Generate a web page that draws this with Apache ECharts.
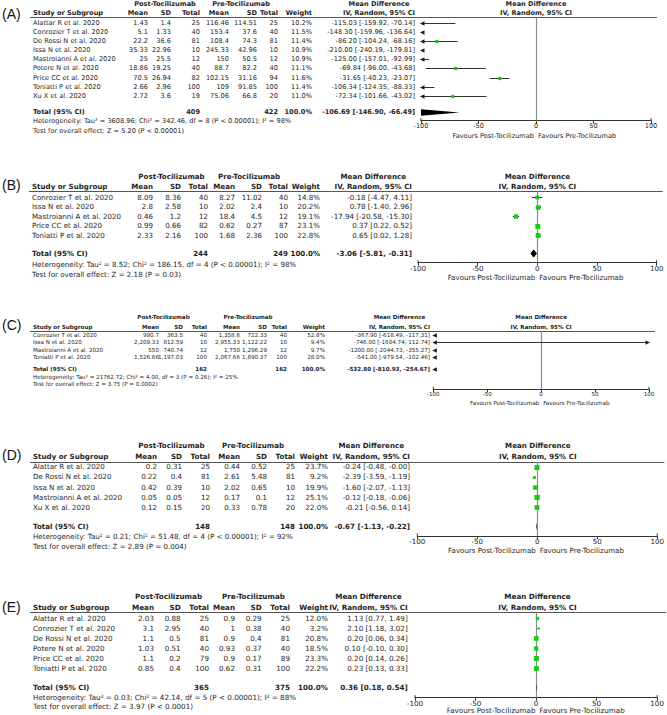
<!DOCTYPE html>
<html><head><meta charset="utf-8">
<script src="https://cdn.jsdelivr.net/npm/echarts@6.0.0/dist/echarts.min.js"></script>
<style>html,body{margin:0;padding:0;background:#fff}#c{width:667px;height:715px}</style>
</head><body><div id="c"></div>
<script>
// ---------------- DATA ----------------
const A_study = ["Alattar R et al. 2020","Conrozier T et al. 2020","De Rossi N et al. 2020","Issa N et al. 2020","Mastroianni A et al. 2020","Potere N et al. 2020","Price CC et al. 2020","Toniatti P et al. 2020","Xu X et al. 2020"];
const A_postMean = [1.43,5.1,22.2,35.33,25,18.86,70.5,2.66,2.72];
const A_postSD = [1.4,1.33,36.6,22.96,25.5,19.25,26.94,2.96,3.6];
const A_postN = [25,40,81,10,12,40,82,100,19];
const A_preMean = [116.46,153.4,108.4,245.33,150,88.7,102.15,109,75.06];
const A_preSD = [114.51,37.6,74.3,42.96,50.5,82.2,31.16,91.85,66.8];
const A_preN = [25,40,81,10,12,40,94,100,20];
const A_weight = [10.2,11.5,11.4,10.9,10.9,11.1,11.6,11.4,11.0];
const A_md = [-115.03,-148.30,-86.20,-210.00,-125.00,-69.84,-31.65,-106.34,-72.34];
const A_lo = [-159.92,-159.96,-104.24,-240.19,-157.01,-96.00,-40.23,-124.35,-101.66];
const A_hi = [-70.14,-136.64,-68.16,-179.81,-92.99,-43.68,-23.07,-88.33,-43.02];
const A_total = [409,422,-106.69,-146.90,-66.49];
const A_het = "Heterogeneity: Tau² = 3608.96; Chi² = 342.46, df = 8 (P < 0.00001); I² = 98%";
const A_test = "Test for overall effect: Z = 5.20 (P < 0.00001)";

const B_study = ["Conrozier T et al. 2020","Issa N et al. 2020","Mastroianni A et al. 2020","Price CC et al. 2020","Toniatti P et al. 2020"];
const B_postMean = [8.09,2.8,0.46,0.99,2.33];
const B_postSD = [8.36,2.58,1.2,0.66,2.16];
const B_postN = [40,10,12,82,100];
const B_preMean = [8.27,2.02,18.4,0.62,1.68];
const B_preSD = [11.02,2.4,4.5,0.27,2.36];
const B_preN = [40,10,12,87,100];
const B_weight = [14.8,20.2,19.1,23.1,22.8];
const B_md = [-0.18,0.78,-17.94,0.37,0.65];
const B_lo = [-4.47,-1.40,-20.58,0.22,0.02];
const B_hi = [4.11,2.96,-15.30,0.52,1.28];
const B_total = [244,249,-3.06,-5.81,-0.31];
const B_het = "Heterogeneity: Tau² = 8.52; Chi² = 186.15, df = 4 (P < 0.00001); I² = 98%";
const B_test = "Test for overall effect: Z = 2.18 (P = 0.03)";

const C_study = ["Conrozier T et al. 2020","Issa N et al. 2020","Mastroianni A et al. 2020","Toniatti P et al. 2020"];
const C_postMean = [990.7,2209.33,550,1526.66];
const C_postSD = [363.5,812.59,740.74,1197.03];
const C_postN = [40,10,12,100];
const C_preMean = [1358.6,2955.33,1750,2067.66];
const C_preSD = [722.33,1122.22,1296.29,1890.37];
const C_preN = [40,10,12,100];
const C_weight = [52.8,9.4,9.7,28.0];
const C_md = [-367.90,-746.00,-1200.00,-541.00];
const C_lo = [-618.49,-1604.74,-2044.73,-979.54];
const C_hi = [-117.31,112.74,-355.27,-102.46];
const C_total = [162,162,-532.80,-810.93,-254.67];
const C_het = "Heterogeneity: Tau² = 21762.72; Chi² = 4.00, df = 3 (P = 0.26); I² = 25%";
const C_test = "Test for overall effect: Z = 3.75 (P = 0.0002)";

const D_study = ["Alattar R et al. 2020","De Rossi N et al. 2020","Issa N et al. 2020","Mastroianni A et al. 2020","Xu X et al. 2020"];
const D_postMean = [0.2,0.22,0.42,0.05,0.12];
const D_postSD = [0.31,0.4,0.39,0.05,0.15];
const D_postN = [25,81,10,12,20];
const D_preMean = [0.44,2.61,2.02,0.17,0.33];
const D_preSD = [0.52,5.48,0.65,0.1,0.78];
const D_preN = [25,81,10,12,20];
const D_weight = [23.7,9.2,19.9,25.1,22.0];
const D_md = [-0.24,-2.39,-1.60,-0.12,-0.21];
const D_lo = [-0.48,-3.59,-2.07,-0.18,-0.56];
const D_hi = [-0.004,-1.19,-1.13,-0.06,0.14];
const D_total = [148,148,-0.67,-1.13,-0.22];
const D_het = "Heterogeneity: Tau² = 0.21; Chi² = 51.48, df = 4 (P < 0.00001); I² = 92%";
const D_test = "Test for overall effect: Z = 2.89 (P = 0.004)";

const E_study = ["Alattar R et al. 2020","Conrozier T et al. 2020","De Rossi N et al. 2020","Potere N et al. 2020","Price CC et al. 2020","Toniatti P et al. 2020"];
const E_postMean = [2.03,3.1,1.1,1.03,1.1,0.85];
const E_postSD = [0.88,2.95,0.5,0.51,0.2,0.4];
const E_postN = [25,40,81,40,79,100];
const E_preMean = [0.9,1,0.9,0.93,0.9,0.62];
const E_preSD = [0.29,0.38,0.4,0.37,0.17,0.31];
const E_preN = [25,40,81,40,89,100];
const E_weight = [12.0,3.2,20.8,18.5,23.3,22.2];
const E_md = [1.13,2.10,0.20,0.10,0.20,0.23];
const E_lo = [0.77,1.18,0.06,-0.10,0.14,0.13];
const E_hi = [1.49,3.02,0.34,0.30,0.26,0.33];
const E_total = [365,375,0.36,0.18,0.54];
const E_het = "Heterogeneity: Tau² = 0.03; Chi² = 42.14, df = 5 (P < 0.00001); I² = 88%";
const E_test = "Test for overall effect: Z = 3.97 (P < 0.0001)";

const AXIS_TICKS = [-100,-50,0,50,100];
const POST_LABEL = "Post-Tocilizumab";
const PRE_LABEL = "Pre-Tocilizumab";
const MD_LABEL = "Mean Difference";
const IV_LABEL = "IV, Random, 95% CI";
const STUDY_HDR = "Study or Subgroup";
const COL_HDRS = ["Mean","SD","Total","Mean","SD","Total","Weight"];
const TOTAL_LABEL = "Total (95% CI)";
const FAV_LEFT = "Favours Post-Tocilizumab";
const FAV_RIGHT = "Favours Pre-Tocilizumab";

// ---------------- LAYOUT (pixels) ----------------
// cols: study, postMean, postSD, postN, preMean, preSD, preN, weight, md (right edges except study)
const LAYOUT = {
  A:{labelY:14, h1:3.8, h2:12.8, line:17, row0:22.7, step:9.15, total:112, het:121.3, test:130.7, axis:120.7, fav:135.5, fs:6.6,
     cols:[33,148,171,200,229,257,278,312,415], postC:165, preC:241, pl:421, pr:651, thousands:false},
  B:{labelY:185, h1:176, h2:186, line:190.7, row0:197.3, step:9.5, total:253.3, het:264, test:274, axis:262.7, fav:277, fs:7.1,
     cols:[32,153,181,208,235,262,288,320,412], postC:171.5, preC:249, pl:418, pr:656.7, thousands:false},
  C:{labelY:325, h1:317, h2:327, line:331.2, row0:334.6, step:7.45, total:369.3, het:376.7, test:384, axis:389.3, fav:402.7, fs:5.6,
     cols:[33,159,183,207,240,267,287,325,430], postC:163.5, preC:248, pl:433.3, pr:649, thousands:true},
  D:{labelY:455, h1:445.7, h2:456, line:461.7, row0:466.7, step:10.15, total:526, het:536, test:546, axis:536, fav:550, fs:7.1,
     cols:[33,157,182,210,240,267,295,328,410], postC:171.5, preC:253, pl:417.3, pr:658.3, thousands:false},
  E:{labelY:606.7, h1:596.7, h2:607.3, line:611.7, row0:618.3, step:10.0, total:687.3, het:697.3, test:706.7, axis:697.7, fav:710.8, fs:7.2,
     cols:[33,154,180.7,209,235,261.7,290,328,407.7], postC:168.5, preC:253.5, pl:415, pr:660, thousands:false}
};

const PANELS = [
  {key:'A', study:A_study, pm:A_postMean, psd:A_postSD, pn:A_postN, rm:A_preMean, rsd:A_preSD, rn:A_preN, w:A_weight, md:A_md, lo:A_lo, hi:A_hi, total:A_total, het:A_het, test:A_test},
  {key:'B', study:B_study, pm:B_postMean, psd:B_postSD, pn:B_postN, rm:B_preMean, rsd:B_preSD, rn:B_preN, w:B_weight, md:B_md, lo:B_lo, hi:B_hi, total:B_total, het:B_het, test:B_test},
  {key:'C', study:C_study, pm:C_postMean, psd:C_postSD, pn:C_postN, rm:C_preMean, rsd:C_preSD, rn:C_preN, w:C_weight, md:C_md, lo:C_lo, hi:C_hi, total:C_total, het:C_het, test:C_test},
  {key:'D', study:D_study, pm:D_postMean, psd:D_postSD, pn:D_postN, rm:D_preMean, rsd:D_preSD, rn:D_preN, w:D_weight, md:D_md, lo:D_lo, hi:D_hi, total:D_total, het:D_het, test:D_test},
  {key:'E', study:E_study, pm:E_postMean, psd:E_postSD, pn:E_postN, rm:E_preMean, rsd:E_preSD, rn:E_preN, w:E_weight, md:E_md, lo:E_lo, hi:E_hi, total:E_total, het:E_het, test:E_test}
];

// ---------------- STYLE ----------------
const FONT = '"DejaVu Sans", "Liberation Sans", sans-serif';
const INK = '#1e1e1e';
const GREEN = '#14cc14';
const XMIN = AXIS_TICKS[0], XMAX = AXIS_TICKS[AXIS_TICKS.length-1];
const DIAMOND_H = 4;

const measureCtx = document.createElement('canvas').getContext('2d');
function textWidth(t, font){ measureCtx.font = font; return measureCtx.measureText(t).width; }
function fnt(fs, bold){ return (bold ? 'bold ' : '') + fs + 'px ' + FONT; }

const graphics = [];
function txt(t, x, y, font, align, fill){
  graphics.push({type:'text', x:x, y:y, silent:true,
    style:{text:t, font:font, fill:fill||INK, align:align||'left', textAlign:align||'left', verticalAlign:'middle', textVerticalAlign:'middle'}});
}
function hline(x1, x2, y, color){
  graphics.push({type:'line', silent:true, shape:{x1:x1, y1:y, x2:x2, y2:y}, style:{stroke:color||'#444', lineWidth:1}});
}

function fmtNum(v, thousands){ return thousands ? v.toLocaleString('en-US',{maximumFractionDigits:2}) : String(v); }
function fmtMD(m, l, h){ return m.toFixed(2) + ' [' + l.toFixed(2) + ', ' + h.toFixed(2) + ']'; }

function clipX(pts, xc, keepGreater){
  const inside = p => keepGreater ? p[0] >= xc : p[0] <= xc;
  const inter = (a, b) => { const t = (xc - a[0]) / (b[0] - a[0]); return [xc, a[1] + t * (b[1] - a[1])]; };
  const out = [];
  for (let i = 0; i < pts.length; i++){
    const cur = pts[i], prev = pts[(i + pts.length - 1) % pts.length];
    const ci = inside(cur), pi = inside(prev);
    if (ci){ if (!pi) out.push(inter(prev, cur)); out.push(cur); }
    else if (pi) out.push(inter(prev, cur));
  }
  return out;
}

function renderItem(params, api){
  const md = api.value(0), lo = api.value(1), hi = api.value(2), w = api.value(3), yv = api.value(4), tot = api.value(5);
  const X = v => api.coord([v, yv])[0];
  const y = Math.round(api.coord([0, yv])[1]) + 0.5;
  const cs = params.coordSys;
  const kids = [];
  if (params.dataIndex === 0){
    const zx = Math.round(X(0)) + 0.5;
    kids.push({type:'line', shape:{x1:zx, y1:cs.y, x2:zx, y2:cs.y + cs.height}, style:{stroke:'#8c8c8c', lineWidth:1.2}});
    // end ticks reaching above the axis line
    const by = cs.y + cs.height;
    [XMIN, XMAX].forEach(v => kids.push({type:'line', shape:{x1:X(v), y1:by-2.5, x2:X(v), y2:by}, style:{stroke:'#333', lineWidth:1}}));
  }
  const leftArrow = () => ({type:'polygon', shape:{points:[[X(XMIN)-1, y],[X(XMIN)+3.5, y-2.2],[X(XMIN)+3.5, y+2.2]]}, style:{fill:INK}});
  const rightArrow = () => ({type:'polygon', shape:{points:[[X(XMAX)+1, y],[X(XMAX)-3.5, y-2.2],[X(XMAX)-3.5, y+2.2]]}, style:{fill:INK}});
  if (tot){
    if (hi < XMIN) kids.push(leftArrow());
    else if (lo > XMAX) kids.push(rightArrow());
    else {
      let pts = [[lo,0],[md,-DIAMOND_H],[hi,0],[md,DIAMOND_H]];
      pts = clipX(pts, XMIN, true); pts = clipX(pts, XMAX, false);
      const pp = pts.map(p => [X(p[0]), y + p[1]]);
      const xs = pp.map(p => p[0]);
      if (Math.max(...xs) - Math.min(...xs) < 1.2){
        const cx = X(md);
        kids.push({type:'polygon', shape:{points:[[cx-0.6,y],[cx,y-DIAMOND_H],[cx+0.6,y],[cx,y+DIAMOND_H]]}, style:{fill:'#555'}});
      } else {
        kids.push({type:'polygon', shape:{points:pp}, style:{fill:'#000'}});
      }
    }
  } else {
    const a = Math.max(lo, XMIN), b = Math.min(hi, XMAX);
    if (b > a) kids.push({type:'line', shape:{x1:X(a), y1:y, x2:X(b), y2:y}, style:{stroke:'#333', lineWidth:1}});
    if (lo < XMIN) kids.push(leftArrow());
    if (hi > XMAX) kids.push(rightArrow());
    if (md >= XMIN && md <= XMAX){
      const s = 1.5 + 0.15 * w;
      kids.push({type:'rect', shape:{x:X(md)-s/2, y:y-s/2, width:s, height:s}, style:{fill:GREEN}});
    }
  }
  return {type:'group', children:kids};
}

const grids = [], xAxes = [], yAxes = [], series = [];
PANELS.forEach((P, k) => {
  const L = LAYOUT[P.key];
  const fs = L.fs, c = L.cols;
  const nf = fnt(fs, false), bf = fnt(fs, true);
  txt('(' + P.key + ')', 2, L.labelY, '14px "Liberation Sans", sans-serif', 'left', '#111');
  txt(POST_LABEL, L.postC, L.h1, bf, 'center');
  txt(PRE_LABEL, L.preC, L.h1, bf, 'center');
  const ivW = textWidth(IV_LABEL, bf);
  txt(MD_LABEL, c[8] - ivW / 2, L.h1, bf, 'center');
  const zx = (L.pl + L.pr) / 2;
  txt(MD_LABEL, zx, L.h1, bf, 'center');
  txt(STUDY_HDR, c[0], L.h2, bf, 'left');
  COL_HDRS.forEach((h, j) => txt(h, c[j+1], L.h2, bf, 'right'));
  txt(IV_LABEL, c[8], L.h2, bf, 'right');
  txt(IV_LABEL, zx, L.h2, bf, 'center');
  hline(c[0] - 3, L.pr + 6, Math.round(L.line) + 0.5, '#555');
  const data = [];
  P.study.forEach((s, i) => {
    const y = L.row0 + i * L.step;
    txt(s, c[0], y, nf, 'left');
    txt(fmtNum(P.pm[i], L.thousands), c[1], y, nf, 'right');
    txt(fmtNum(P.psd[i], L.thousands), c[2], y, nf, 'right');
    txt(String(P.pn[i]), c[3], y, nf, 'right');
    txt(fmtNum(P.rm[i], L.thousands), c[4], y, nf, 'right');
    txt(fmtNum(P.rsd[i], L.thousands), c[5], y, nf, 'right');
    txt(String(P.rn[i]), c[6], y, nf, 'right');
    txt(P.w[i].toFixed(1) + '%', c[7], y, nf, 'right');
    txt(fmtMD(P.md[i], P.lo[i], P.hi[i]), c[8], y, nf, 'right');
    data.push([P.md[i], P.lo[i], P.hi[i], P.w[i], i, 0]);
  });
  const T = P.total;
  txt(TOTAL_LABEL, c[0], L.total, bf, 'left');
  txt(String(T[0]), c[3], L.total, bf, 'right');
  txt(String(T[1]), c[6], L.total, bf, 'right');
  txt('100.0%', c[7], L.total, bf, 'right');
  txt(fmtMD(T[2], T[3], T[4]), c[8], L.total, bf, 'right');
  data.push([T[2], T[3], T[4], 100, (L.total - L.row0) / L.step, 1]);
  txt(P.het, c[0], L.het, nf, 'left');
  txt(P.test, c[0], L.test, nf, 'left');
  txt(FAV_LEFT, zx - 2, L.fav, nf, 'right');
  txt(FAV_RIGHT, zx + 2, L.fav, nf, 'left');

  grids.push({left:L.pl, width:L.pr - L.pl, top:L.line, height:L.axis - L.line, containLabel:false});
  xAxes.push({gridIndex:k, type:'value', min:XMIN, max:XMAX, interval:AXIS_TICKS[1]-AXIS_TICKS[0],
    axisLine:{show:true, onZero:false, lineStyle:{color:'#333', width:1}},
    axisTick:{show:true, length:3, lineStyle:{color:'#333'}},
    axisLabel:{fontSize:fs, fontFamily:FONT, color:INK, margin:2, showMinLabel:true, showMaxLabel:true},
    splitLine:{show:false}});
  yAxes.push({gridIndex:k, type:'value', inverse:true, show:false,
    min:-(L.row0 - L.line) / L.step, max:(L.axis - L.row0) / L.step, splitLine:{show:false}});
  series.push({type:'custom', xAxisIndex:k, yAxisIndex:k, renderItem:renderItem, data:data, silent:true, animation:false,
    encode:{x:[0,1,2], y:4}, clip:false, z:3});
});

const chart = echarts.init(document.getElementById('c'), null, {renderer:'svg', width:667, height:715});
chart.setOption({
  animation:false,
  backgroundColor:'#fff',
  grid:grids, xAxis:xAxes, yAxis:yAxes, series:series,
  graphic:{elements:graphics}
});
</script>
</body></html>
